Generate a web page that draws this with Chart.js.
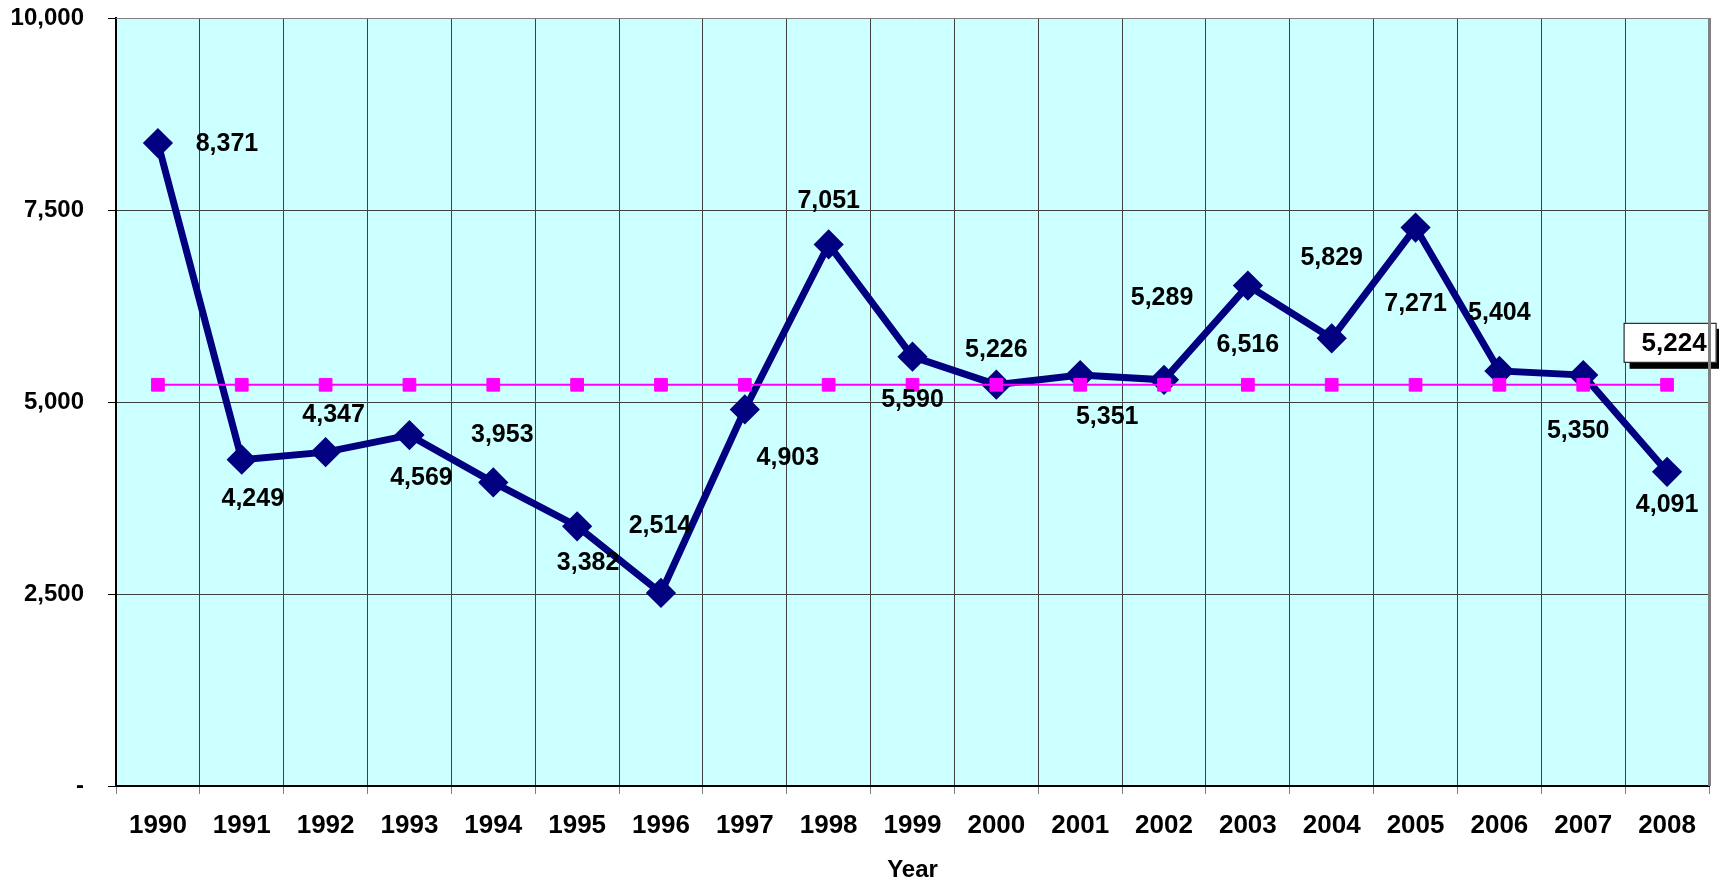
<!DOCTYPE html>
<html>
<head>
<meta charset="utf-8">
<script src="https://cdn.jsdelivr.net/npm/chart.js@4"></script>
<style>
  html, body { margin: 0; padding: 0; background: #ffffff; }
  #wrap { width: 1719px; height: 882px; }
</style>
</head>
<body>
<div id="wrap"><canvas id="chart" width="1719" height="882"></canvas></div>
<script>
const years = ["1990", "1991", "1992", "1993", "1994", "1995", "1996", "1997", "1998", "1999",
               "2000", "2001", "2002", "2003", "2004", "2005", "2006", "2007", "2008"];
const values = [8371, 4249, 4347, 4569, 3953, 3382, 2514, 4903, 7051, 5590,
                5226, 5351, 5289, 6516, 5829, 7271, 5404, 5350, 4091];
const average = [5224, 5224, 5224, 5224, 5224, 5224, 5224, 5224, 5224, 5224,
                 5224, 5224, 5224, 5224, 5224, 5224, 5224, 5224, 5224];
const yTicks = [0, 2500, 5000, 7500, 10000];

// where each value label sits relative to its point (px)
const labelOffsets = [
  [69, 1], [11, 39], [8, -37], [12, 43], [9, -47], [11, 37], [-1, -67], [43, 49],
  [0, -43], [0, 43], [0, -35], [27, 42], [-2, -82], [0, 60], [0, -80], [0, 77],
  [0, -58], [-5, 56], [0, 33]
];

const FONT = "'Liberation Sans', Arial, sans-serif";
const fmt = v => v.toLocaleString("en-US");

const plotFrame = {
  id: "plotFrame",
  beforeDraw(chart) {
    const { ctx, chartArea: a } = chart;
    ctx.save();
    ctx.fillStyle = "#ccffff";
    ctx.fillRect(a.left, a.top, a.right - a.left, a.bottom - a.top);
    ctx.restore();
  },
  afterDraw(chart) {
    const { ctx, chartArea: a } = chart;
    ctx.save();
    ctx.strokeStyle = "#808080";
    ctx.lineWidth = 1;
    ctx.beginPath();
    ctx.moveTo(a.left, a.top + 0.5);
    ctx.lineTo(a.right, a.top + 0.5);
    ctx.stroke();
    ctx.lineWidth = 3;
    ctx.beginPath();
    ctx.moveTo(a.right + 0.5, a.top);
    ctx.lineTo(a.right + 0.5, a.bottom);
    ctx.stroke();
    ctx.restore();
  }
};

const valueLabels = {
  id: "valueLabels",
  afterDatasetsDraw(chart) {
    const ctx = chart.ctx;
    const meta = chart.getDatasetMeta(1);
    ctx.save();
    ctx.font = "bold 25px " + FONT;
    ctx.fillStyle = "#000000";
    ctx.textAlign = "center";
    ctx.textBaseline = "middle";
    meta.data.forEach((pt, i) => {
      const off = labelOffsets[i];
      ctx.fillText(fmt(values[i]), pt.x + off[0], pt.y + off[1]);
    });

    // boxed label for the average at the last point
    const avgMeta = chart.getDatasetMeta(0);
    const last = avgMeta.data[avgMeta.data.length - 1];
    const w = 93, h = 40;
    const bx = last.x + 3 - w / 2, by = last.y - 42 - h / 2;
    ctx.fillStyle = "#000000";
    ctx.fillRect(bx + 6, by + 6, w, h);
    ctx.fillStyle = "#ffffff";
    ctx.fillRect(bx, by, w, h);
    ctx.strokeStyle = "#000000";
    ctx.lineWidth = 1;
    ctx.strokeRect(bx + 0.5, by + 0.5, w - 1, h - 1);
    ctx.fillStyle = "#000000";
    ctx.font = "bold 26px " + FONT;
    ctx.fillText(fmt(average[average.length - 1]), bx + w / 2 + 4, by + h / 2 + 1);
    ctx.restore();
  }
};

new Chart(document.getElementById("chart"), {
  type: "line",
  data: {
    labels: years,
    datasets: [
      {
        label: "Average",
        data: average,
        order: 0,
        borderColor: "#ff00ff",
        backgroundColor: "#ff00ff",
        borderWidth: 2,
        pointStyle: "rect",
        pointRadius: 9,
        pointBorderWidth: 1,
        tension: 0
      },
      {
        label: "Value",
        data: values,
        order: 1,
        borderColor: "#000080",
        backgroundColor: "#000080",
        borderWidth: 7,
        pointStyle: "rectRot",
        pointRadius: 13,
        pointBorderWidth: 3,
        tension: 0
      }
    ]
  },
  options: {
    responsive: false,
    animation: false,
    layout: { autoPadding: false, padding: { top: 0, right: 10, left: 0, bottom: 0 } },
    plugins: {
      legend: { display: false },
      tooltip: { enabled: false }
    },
    scales: {
      x: {
        offset: true,
        grid: {
          offset: true,
          color: "#404040",
          lineWidth: 1,
          tickLength: 8,
          tickColor: "#808080"
        },
        border: { color: "#000000", width: 2 },
        ticks: {
          color: "#000000",
          font: { family: FONT, size: 26, weight: "bold" },
          padding: 16,
          maxRotation: 0,
          autoSkip: false
        },
        title: {
          display: true,
          text: "Year",
          color: "#000000",
          font: { family: FONT, size: 24, weight: "bold", lineHeight: 1 },
          padding: { top: 0, bottom: 0 }
        },
        afterFit(scale) { scale.height = 96; }
      },
      y: {
        min: 0,
        max: 10000,
        afterBuildTicks(scale) { scale.ticks = yTicks.map(v => ({ value: v })); },
        grid: {
          color: "#404040",
          lineWidth: 1,
          tickLength: 8,
          tickColor: "#000000"
        },
        border: { color: "#000000", width: 2 },
        ticks: {
          color: "#000000",
          font: { family: FONT, size: 24, weight: "bold" },
          padding: 24,
          callback: v => (v === 0 ? "-" : fmt(v))
        },
        afterFit(scale) {
          scale.width = 116;
          scale.paddingTop = 18;
          scale.paddingBottom = 0;
        }
      }
    }
  },
  plugins: [plotFrame, valueLabels]
});
</script>
</body>
</html>
